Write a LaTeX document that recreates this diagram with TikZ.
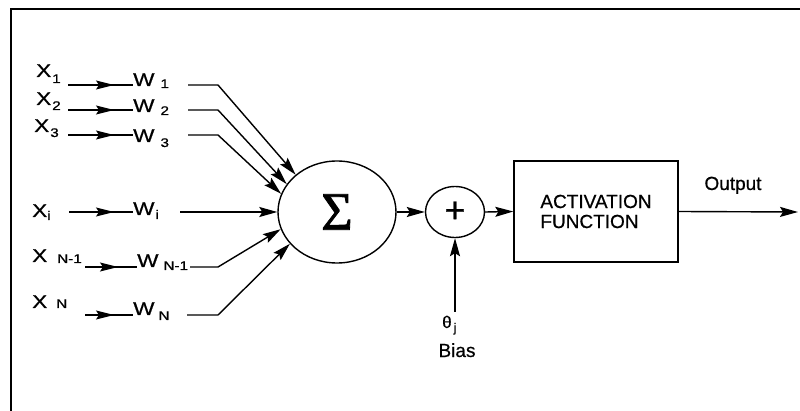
\documentclass[tikz,border=0pt]{standalone}
\usepackage{fontspec}
\setmainfont[FakeBold=0.6]{Liberation Sans}
\newfontfamily\lblfont[FakeStretch=1.22,FakeBold=0.8]{Liberation Sans}
\newfontfamily\sigmafont[FakeBold=1.5]{Liberation Serif}
\usetikzlibrary{arrows.meta,shapes.geometric,decorations.markings}

% lowered subscript: #1 gap, #2 drop, #3 text
\newcommand\sbx[3]{\hspace{#1pt}\raisebox{-#2pt}{\fontsize{12.5}{12.5}\selectfont #3}}

\tikzset{
  conn/.style={line width=1.4pt},
  tip/.style={-{Stealth[length=18pt,width=10pt,inset=3pt]}},
  midtip/.style={postaction=decorate,
    decoration={markings, mark=at position -19pt with {\arrow{Stealth[length=18pt,width=9pt,inset=3pt]}}}},
  lbl/.style={inner sep=0pt, anchor=base west, font=\lblfont\fontsize{18.5}{18.5}\selectfont},
  txt/.style={inner sep=0pt, font=\fontsize{19}{20}\selectfont},
}

\begin{document}
\begin{tikzpicture}[x=1pt, y=-1pt]
\useasboundingbox (0,0) rectangle (800,411);

% frame
\draw[line width=2pt] (800,9.5) -- (11,9.5) -- (11,411);

% summation and bias junctions, activation block
\node[draw, conn, ellipse, minimum width=118pt, minimum height=102pt, inner sep=0pt]
  (sum) at (337,212) {\sigmafont\fontsize{54}{54}\selectfont Σ};
\node[draw, conn, ellipse, minimum width=59pt, minimum height=51pt, inner sep=0pt,
  font=\fontsize{36}{36}\selectfont] (plus) at (455,212) {+};
\node[draw, conn, minimum width=164pt, minimum height=101pt, align=left,
  font=\fontsize{19}{20}\selectfont] (act) at (596,211.5) {ACTIVATION\\FUNCTION};

% inputs
\node[lbl] (x1) at (36,77)  {X\sbx{1}{6}{1}};
\node[lbl] (x2) at (36,105) {X\sbx{1}{5}{2}};
\node[lbl] (x3) at (34,132) {X\sbx{1}{5}{3}};
\node[lbl] (xi) at (32,217) {X\sbx{0}{3}{i}};
\node[lbl] (xn1) at (32,262) {X\sbx{10}{1}{N-1}};
\node[lbl] (xn) at (32,308) {X\sbx{9}{0}{N}};

% weights
\node[lbl] (w1) at (133,86)  {W\sbx{6}{2}{1}};
\node[lbl] (w2) at (133,112) {W\sbx{6}{3}{2}};
\node[lbl] (w3) at (133,142) {W\sbx{6}{5}{3}};
\node[lbl] (wi) at (133,215) {W\sbx{1}{4}{i}};
\node[lbl] (wn1) at (137,267) {W\sbx{5}{3}{N-1}};
\node[lbl] (wn) at (133,315) {W\sbx{4}{5}{N}};

% input to weight connectors
\coordinate (a1) at (68,85);
\coordinate (a2) at (68,110);
\coordinate (a3) at (68,135);
\coordinate (ai) at (69,212);
\coordinate (an1) at (85,267);
\coordinate (an) at (85,315);
\draw[conn,midtip] (a1) -- (a1 -| w1.west);
\draw[conn,midtip] (a2) -- (a2 -| w2.west);
\draw[conn,midtip] (a3) -- (a3 -| w3.west);
\draw[conn,midtip] (ai) -- (ai -| wi.west);
\draw[conn,midtip] (an1) -- (an1 -| wn1.west);
\draw[conn,midtip] (an) -- (an -| wn.west);

% weighted inputs into the summation
\coordinate (b1) at (188,85);  \coordinate (c1) at (218,85);
\coordinate (b2) at (188,110); \coordinate (c2) at (218,110);
\coordinate (b3) at (188,135); \coordinate (c3) at (218,135);
\coordinate (bi) at (180,212);
\coordinate (bn1) at (190,267); \coordinate (cn1) at (218,267);
\coordinate (bn) at (187,315);  \coordinate (cn) at (218,315);
\draw[conn,tip] (b1) -- (c1) -- (sum.138);
\draw[conn,tip] (b2) -- (c2) -- (sum.151);
\draw[conn,tip] (b3) -- (c3) -- (sum.162);
\draw[conn,tip] (bi) -- (sum.west);
\draw[conn,tip] (bn1) -- (cn1) -- (sum.197);
\draw[conn,tip] (bn) -- (cn) -- (sum.214);

% main chain
\draw[conn,tip] (sum.east) -- (plus.west);
\draw[conn,tip] (plus.east) -- (act.west);
\coordinate (out) at (798,212);
\draw[conn,tip] (act.east) -- (out);
\node[txt, anchor=base] (outlbl) at (733,190) {Output};

% bias
\coordinate (bs) at (455,312);
\draw[conn,tip] (bs) -- (plus.south);
\node[inner sep=0pt, anchor=base west, font=\fontsize{17}{17}\selectfont]
  (theta) at (442,328) {θ\sbx{2}{4}{j}};
\node[txt, anchor=base] (bias) at (457,357) {Bias};
\end{tikzpicture}
\end{document}
